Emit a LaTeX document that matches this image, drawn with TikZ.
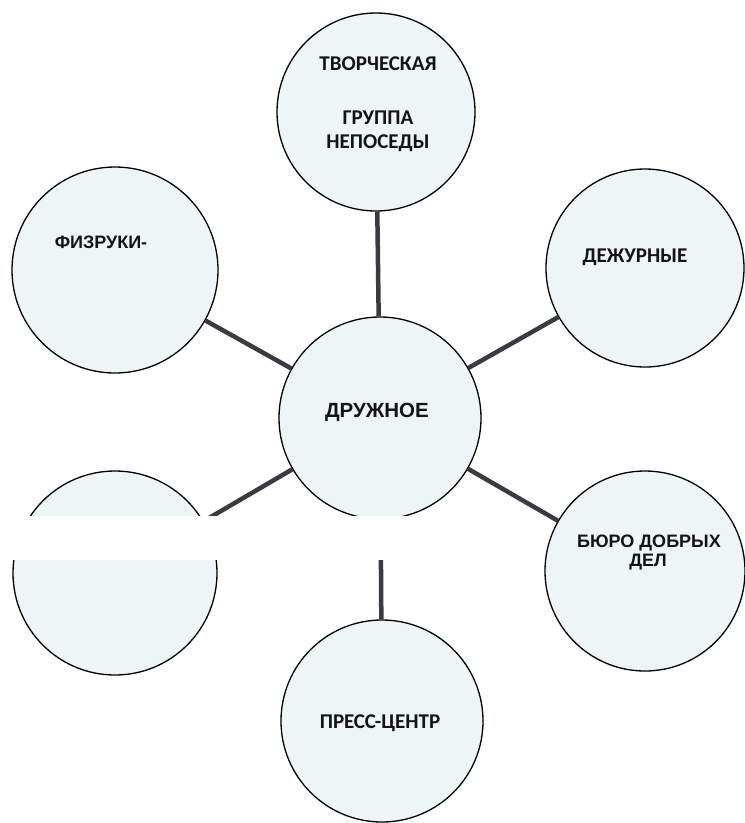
\documentclass[tikz,border=0pt]{standalone}
\usepackage{fontspec}
\setmainfont{Carlito}
\newfontfamily\arialfont{Liberation Sans}
\definecolor{bubble}{HTML}{EDF5F7}
\definecolor{linkcol}{HTML}{3A3A44}
\definecolor{inkcol}{HTML}{141414}
\begin{document}
\begin{tikzpicture}[x=1pt,y=-1pt,
  bub/.style={circle,draw=black,line width=1.3pt,fill=bubble,inner sep=0pt,minimum size=#1},
  link/.style={draw=linkcol,line width=4.5pt},
  lbl/.style={text=inkcol,font=\bfseries\fontsize{21}{23}\selectfont,align=center,inner sep=0pt},
  albl/.style={text=inkcol,font=\arialfont\bfseries\fontsize{18}{20}\selectfont,align=center,inner sep=0pt}]
\useasboundingbox (0,0) rectangle (745,823);
\fill[white] (0,0) rectangle (745,823);
% circles
\node[bub=198pt] (T)  at (376,112) {};
\node[bub=206pt] (FZ) at (115,270) {};
\node[bub=198pt] (DZ) at (645,268) {};
\node[bub=202pt] (C)  at (380,418) {};
\node[bub=204pt] (LB) at (115,573) {};
\node[bub=200pt] (BR) at (645,571) {};
\node[bub=202pt] (PC) at (382,721) {};
% connectors
\draw[link] (T) -- (C);
\draw[link] (FZ) -- (C);
\draw[link] (DZ) -- (C);
\draw[link] (LB) -- (C);
\draw[link] (BR) -- (C);
\draw[link] (PC) -- (C);
% white-out band of the scan
\fill[white] (0,516) rectangle (445,560);
% labels
\node[lbl] (t1) at (378,64) {ТВОРЧЕСКАЯ};
\node[lbl] (t2) at (378,118) {ГРУППА};
\node[lbl] (t3) at (378,143) {НЕПОСЕДЫ};
\node[albl] (fz) at (101,242) {ФИЗРУКИ-};
\node[lbl] (dz) at (635,257) {ДЕЖУРНЫЕ};
\node[albl,font=\arialfont\bfseries\fontsize{20.5}{22}\selectfont] (cc) at (377,412) {ДРУЖНОЕ};
\node[albl] (br1) at (649,543) {БЮРО ДОБРЫХ};
\node[albl] (br2) at (648,562) {ДЕЛ};
\node[lbl] (pc) at (380,723) {ПРЕСС-ЦЕНТР};
\end{tikzpicture}
\end{document}
